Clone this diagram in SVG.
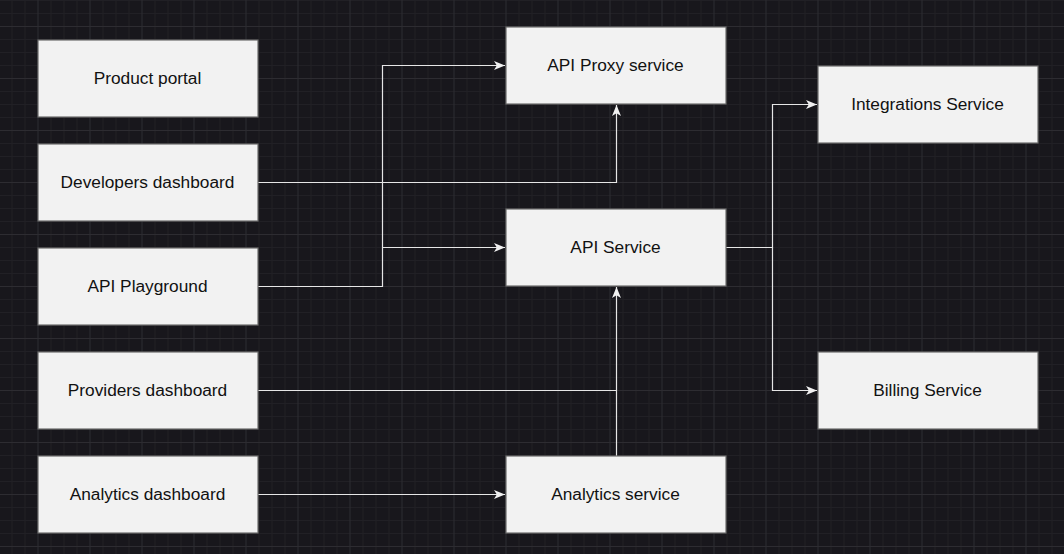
<svg xmlns="http://www.w3.org/2000/svg" width="1064" height="554" viewBox="0 0 1064 554">
<defs>
<pattern id="grid" patternUnits="userSpaceOnUse" x="37.5" y="26" width="52" height="52">
<path d="M13.5 0V52M26.5 0V52M39.5 0V52M0 13.5H52M0 26.5H52M0 39.5H52" stroke="#212025" stroke-width="1" fill="none"/>
<path d="M0.5 0V52M0 0.5H52" stroke="#2d2c31" stroke-width="1" fill="none"/>
</pattern>
<marker id="arr" viewBox="0 0 11 9" refX="11" refY="4.5" markerWidth="11" markerHeight="9" markerUnits="userSpaceOnUse" orient="auto">
<path d="M0 0L11 4.5L0 9L2.8 4.5Z" fill="#f0f0f0"/>
</marker>
<style>
.box{fill:#f2f2f2;stroke:#6b6b6b;stroke-width:1.2}
.lbl{font-family:"Liberation Sans",Arial,sans-serif;font-size:17.3px;fill:#111;text-anchor:middle;dominant-baseline:central}
.edge{fill:none;stroke:#e6e6e6;stroke-width:1.2}
</style>
</defs>
<rect width="1064" height="554" fill="#18171c"/>
<rect width="1064" height="554" fill="url(#grid)"/>
<g id="connectors">
<path class="edge" d="M258 182.5H616.5V105" marker-end="url(#arr)"/>
<path class="edge" d="M258 286.5H382.5V65.5H505" marker-end="url(#arr)"/>
<path class="edge" d="M382.5 247.5H505" marker-end="url(#arr)"/>
<path class="edge" d="M258 390.5H616.5"/>
<path class="edge" d="M616.5 456V287" marker-end="url(#arr)"/>
<path class="edge" d="M258 494.5H505" marker-end="url(#arr)"/>
<path class="edge" d="M726 247.5H772.5V104.5H817" marker-end="url(#arr)"/>
<path class="edge" d="M772.5 247.5V390.5H817" marker-end="url(#arr)"/>
</g>
<g id="product-portal"><rect class="box" x="38" y="40" width="220" height="77"/><text class="lbl" x="147.5" y="77.5">Product portal</text></g>
<g id="developers-dashboard"><rect class="box" x="38" y="144" width="220" height="77"/><text class="lbl" x="147.5" y="181.5">Developers dashboard</text></g>
<g id="api-playground"><rect class="box" x="38" y="248" width="220" height="77"/><text class="lbl" x="147.5" y="285.5">API Playground</text></g>
<g id="providers-dashboard"><rect class="box" x="38" y="352" width="220" height="77"/><text class="lbl" x="147.5" y="389.5">Providers dashboard</text></g>
<g id="analytics-dashboard"><rect class="box" x="38" y="456" width="220" height="77"/><text class="lbl" x="147.5" y="493.5">Analytics dashboard</text></g>
<g id="api-proxy-service"><rect class="box" x="506" y="27" width="220" height="77"/><text class="lbl" x="615.5" y="64.5">API Proxy service</text></g>
<g id="api-service"><rect class="box" x="506" y="209" width="220" height="77"/><text class="lbl" x="615.5" y="246.5">API Service</text></g>
<g id="analytics-service"><rect class="box" x="506" y="456" width="220" height="77"/><text class="lbl" x="615.5" y="493.5">Analytics service</text></g>
<g id="integrations-service"><rect class="box" x="818" y="66" width="220" height="77"/><text class="lbl" x="927.5" y="103.5">Integrations Service</text></g>
<g id="billing-service"><rect class="box" x="818" y="352" width="220" height="77"/><text class="lbl" x="927.5" y="389.5">Billing Service</text></g>
</svg>
